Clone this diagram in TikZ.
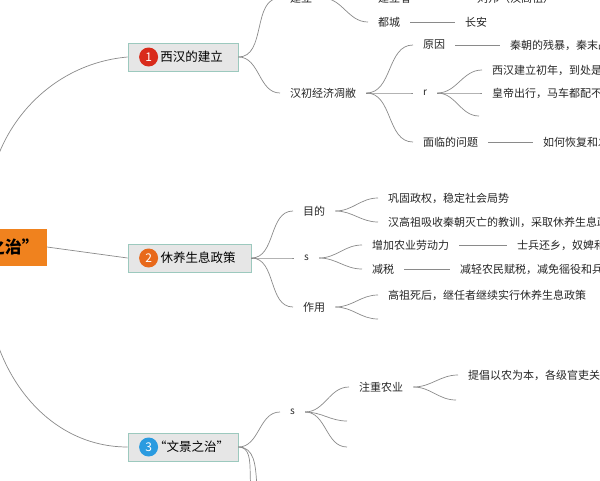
\documentclass[tikz,border=0pt]{standalone}
\usepackage{fontspec}
\setmainfont{Noto Sans CJK SC}
\definecolor{rootorange}{HTML}{F0821E}
\definecolor{boxfill}{HTML}{E6E6E6}
\definecolor{boxline}{HTML}{9CC9BE}
\definecolor{linkgray}{HTML}{8A8A8A}
\definecolor{badgered}{HTML}{D92B1B}
\definecolor{badgeorange}{HTML}{E8691A}
\definecolor{badgeblue}{HTML}{2A9BE0}
\tikzset{
  leaf/.style={anchor=west,inner xsep=10pt,inner ysep=2pt,font=\fontsize{11}{13}\selectfont,text=black!85},
  topic/.style={draw=boxline,fill=boxfill,line width=0.8pt,minimum height=28pt,inner xsep=6pt,font=\fontsize{12.5}{14}\selectfont},
  badge/.style={circle,inner sep=0pt,minimum size=19pt,text=white,font=\fontsize{12}{14}\selectfont},
  link/.style={draw=linkgray,line width=0.7pt},
  curvy/.style={out=0,in=180}
}
\begin{document}
\begin{tikzpicture}[x=1pt,y=-1pt]
\useasboundingbox (0,0) rectangle (600,480);
\clip (0,0) rectangle (600,480);

% root and main topics
\node[fill=rootorange,anchor=east,minimum height=37pt,inner xsep=8pt,
  font=\fontsize{17}{20}\selectfont\bfseries] (root) at (47,247) {“文景之治”};
\node[topic,minimum width=110pt] (n1) at (183,57) {\hspace{17pt}西汉的建立};
\node[topic,minimum width=123pt] (n2) at (189.5,258) {\hspace{17pt}休养生息政策};
\node[topic,minimum width=110pt] (n3) at (183,447) {\hspace{17pt}“文景之治”};
\node[badge,fill=badgered] (b1) at ([xshift=21pt]n1.west) {1};
\node[badge,fill=badgeorange] (b2) at ([xshift=21pt]n2.west) {2};
\node[badge,fill=badgeblue] (b3) at ([xshift=21pt]n3.west) {3};

\path[link] (root.north) to[out=95,in=185] (n1.west);
\path[link] (root.east) -- (n2.west);
\path[link] (root.south) to[out=-95,in=180] (n3.west);

% 1 西汉的建立
\node[leaf] (jl) at (280,-2) {建立};
\node[leaf] (jlz) at (368,-2) {建立者};
\node[leaf] (lb) at (467,-2) {刘邦（汉高祖）};
\node[leaf] (dc) at (368,22) {都城};
\node[leaf] (ca) at (455,22) {长安};
\node[leaf] (hc) at (280,93) {汉初经济凋敝};
\node[leaf] (yy) at (413,45) {原因};
\node[leaf] (qc) at (500,45) {秦朝的残暴，秦末战乱};
\node[leaf,font=\fontsize{10}{12}\selectfont] (r) at (413,93) {r};
\node[leaf] (xh) at (482,70) {西汉建立初年，到处是一片荒凉};
\node[leaf] (hd) at (482,93) {皇帝出行，马车都配不齐};
\coordinate (e1) at (479,116);
\node[leaf] (wt) at (413,142) {面临的问题};
\node[leaf] (hf) at (533,142) {如何恢复和发展经济};
\path[link] (n1.east) to[curvy] (jl.west);
\path[link] (n1.east) to[curvy] (hc.west);
\path[link] (jl.east) to[curvy] (jlz.west);
\path[link] (jl.east) to[curvy] (dc.west);
\path[link] (jlz) -- (lb);
\path[link] (dc) -- (ca);
\path[link] (hc.east) to[curvy] (yy.west);
\path[link] (hc.east) to[curvy] (r.west);
\path[link] (hc.east) to[curvy] (wt.west);
\path[link] (yy) -- (qc);
\path[link] (r.east) to[curvy] (xh.west);
\path[link] (r.east) to[curvy] (hd.west);
\path[link] (r.east) to[curvy] (e1);
\path[link] (wt) -- (hf);

% 2 休养生息政策
\node[leaf] (md) at (293,211) {目的};
\node[leaf] (gg) at (378,198) {巩固政权，稳定社会局势};
\node[leaf] (jx) at (378,222) {汉高祖吸收秦朝灭亡的教训，采取休养生息政策};
\node[leaf,font=\fontsize{10}{12}\selectfont] (s2) at (294,258) {s};
\node[leaf] (zj) at (362,245) {增加农业劳动力};
\node[leaf] (sb) at (507,245) {士兵还乡，奴婢和流民};
\node[leaf] (js) at (362,269) {减税};
\node[leaf] (jq) at (450,269) {减轻农民赋税，减免徭役和兵役};
\node[leaf] (zy) at (293,307) {作用};
\node[leaf] (gz) at (378,295) {高祖死后，继任者继续实行休养生息政策};
\coordinate (e2) at (378,319);
\path[link] (n2.east) to[curvy] (md.west);
\path[link] (n2.east) to[curvy] (s2.west);
\path[link] (n2.east) to[curvy] (zy.west);
\path[link] (md.east) to[curvy] (gg.west);
\path[link] (md.east) to[curvy] (jx.west);
\path[link] (s2.east) to[curvy] (zj.west);
\path[link] (s2.east) to[curvy] (js.west);
\path[link] (zj) -- (sb);
\path[link] (js) -- (jq);
\path[link] (zy.east) to[curvy] (gz.west);
\path[link] (zy.east) to[curvy] (e2);

% 3 “文景之治”
\node[leaf,font=\fontsize{10}{12}\selectfont] (s3) at (280,412) {s};
\node[leaf] (zn) at (349,387) {注重农业};
\node[leaf] (tc) at (458,375) {提倡以农为本，各级官吏关心农业生产};
\coordinate (e3) at (456,400);
\coordinate (e4) at (347,421);
\coordinate (e5) at (347,447);
\coordinate (e6) at (262,500);
\coordinate (e7) at (275,520);
\path[link] (n3.east) to[curvy] (s3.west);
\path[link] (n3.east) to[curvy] (e6);
\path[link] (n3.east) to[curvy] (e7);
\path[link] (s3.east) to[curvy] (zn.west);
\path[link] (s3.east) to[curvy] (e4);
\path[link] (s3.east) to[curvy] (e5);
\path[link] (zn.east) to[curvy] (tc.west);
\path[link] (zn.east) to[curvy] (e3);
\end{tikzpicture}
\end{document}
